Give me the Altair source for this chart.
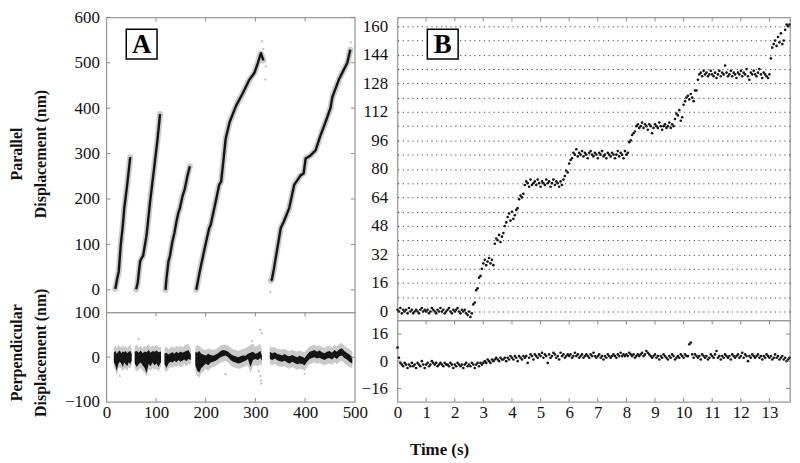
import altair as alt
import numpy as np
import pandas as pd

SERIF = "Liberation Serif"

# ---------------- Panel A : parallel displacement traces (x = time s, y = nm)
trace1_t = [18, 21, 25, 29, 33, 36, 41, 45, 48]
trace1_y = [2, 20, 41, 100, 140, 180, 223, 262, 292]
trace2_t = [60, 63, 68, 71, 74, 81, 88, 96, 103, 108]
trace2_y = [1, 15, 63, 70, 75, 121, 194, 267, 332, 387]
trace3_t = [119, 121, 125, 128, 133, 137, 141, 145, 148, 153, 158, 163, 168]
trace3_y = [0, 25, 63, 75, 107, 125, 150, 170, 180, 205, 223, 250, 272]
trace4_t = [181, 188, 198, 207, 210, 220, 227, 231, 236, 240, 248, 261, 275, 288, 298, 305, 311, 314, 316]
trace4_y = [0, 41, 92, 136, 143, 194, 231, 238, 289, 332, 369, 405, 434, 463, 478, 500, 521, 512, 505]
trace5_t = [331, 333, 337, 341, 351, 357, 368, 378, 391, 397, 401, 411, 421, 431, 441, 451, 455, 468, 478, 485, 491]
trace5_y = [20, 22, 45, 71, 136, 150, 180, 231, 252, 256, 289, 296, 307, 340, 369, 400, 425, 463, 485, 500, 529]
strayA_t = [313, 321, 320, 330, 492, 316]
strayA_y = [547, 492, 463, -5, 545, 530]

# ---------------- Panel A : perpendicular displacement envelopes (nm)
seg1_t = [15, 18, 21, 24, 27, 30, 33, 36, 39, 42, 45, 48, 51]
seg1_bh = [10, 14, 8, 12, 15, 9, 13, 11, 14, 9, 12, 14, 8]
seg1_bl = [-12, -18, -30, -15, -10, -14, -22, -12, -16, -20, -11, -15, -8]
seg1_gh = [22, 26, 20, 28, 24, 22, 27, 21, 26, 20, 25, 28, 18]
seg1_gl = [-22, -28, -42, -26, -22, -25, -32, -24, -27, -30, -22, -26, -18]
seg2_t = [57, 61, 65, 69, 73, 77, 81, 85, 89, 93, 97, 101, 105, 110]
seg2_bh = [12, 14, 10, 15, 9, 13, 11, 16, 10, 14, 12, 15, 11, 13]
seg2_bl = [-14, -22, -16, -12, -18, -24, -36, -15, -20, -12, -18, -14, -22, -10]
seg2_gh = [24, 28, 22, 26, 20, 25, 24, 30, 22, 26, 24, 28, 22, 24]
seg2_gl = [-26, -32, -28, -24, -30, -34, -44, -26, -30, -24, -28, -26, -32, -20]
seg3_t = [117, 121, 125, 129, 133, 137, 141, 145, 149, 153, 157, 161, 165, 170]
seg3_bh = [8, 10, 6, 9, 11, 8, 12, 9, 13, 10, 12, 14, 16, 6]
seg3_bl = [-16, -24, -14, -10, -12, -8, -11, -6, -10, -8, -5, -9, -4, -6]
seg3_gh = [20, 24, 18, 22, 24, 20, 26, 22, 26, 22, 26, 28, 30, 18]
seg3_gl = [-28, -34, -26, -22, -24, -20, -22, -18, -22, -20, -16, -20, -16, -16]
seg4_t = [179, 183, 187, 191, 195, 200, 205, 210, 215, 220, 225, 230, 235, 240, 245,
          250, 255, 260, 265, 270, 275, 280, 285, 290, 295, 300, 305, 310, 313]
seg4_bh = [12, 10, 14, 8, 6, 4, 8, 5, 3, 6, 9, 14, 16, 15, 12, 8, 4, 2, 0, 2, 4, 3, 8, 10, 12, 8, 10, 14, 4]
seg4_bl = [-18, -30, -34, -24, -20, -14, -18, -12, -10, -8, -4, 0, 2, 4, 0, -6, -10, -12, -14, -13,
           -10, -8, -4, -22, -6, -4, -6, -2, -8]
seg4_gh = [24, 22, 26, 20, 18, 16, 20, 18, 16, 18, 22, 26, 28, 28, 26, 22, 18, 16, 14, 16, 18, 20, 24,
           28, 30, 24, 26, 30, 16]
seg4_gl = [-30, -42, -46, -36, -32, -26, -30, -24, -22, -20, -16, -12, -10, -8, -12, -18, -22, -24,
           -26, -25, -22, -20, -18, -36, -20, -18, -20, -16, -20]
seg5_t = [329, 334, 339, 344, 349, 354, 359, 364, 369, 374, 379, 384, 389, 394, 399, 404, 409,
          414, 419, 424, 429, 434, 439, 444, 449, 454, 459, 464, 469, 474, 479, 484, 489, 495]
seg5_bh = [12, 9, 11, 7, 6, 4, 7, 3, 2, 5, 2, 0, 3, 1, -2, 6, 12, 14, 16, 12, 15, 11, 9, 12, 14, 10,
           16, 12, 18, 20, 14, 10, 6, 0]
seg5_bl = [-4, -6, -3, -7, -9, -10, -8, -12, -14, -10, -13, -16, -14, -15, -18, -10, -4, -2, 0, -3,
           -1, -4, -6, -3, -2, -5, 0, -4, 2, 4, -2, -5, -10, -14]
seg5_gh = [24, 22, 23, 19, 18, 17, 19, 15, 14, 17, 14, 13, 15, 13, 11, 18, 24, 26, 28, 24, 27, 23,
           21, 24, 26, 22, 28, 24, 30, 32, 26, 22, 18, 12]
seg5_gl = [-16, -18, -15, -19, -21, -22, -20, -24, -26, -22, -25, -28, -26, -27, -30, -22, -16,
           -14, -12, -15, -13, -16, -18, -15, -14, -17, -12, -16, -10, -8, -14, -17, -22, -26]
strayAb_t = [310, 313, 293, 307, 310, 311, 312, 240, 399, 65, 183, 27]
strayAb_y = [61, 54, 36, -31, -42, -53, -59, -38, -37, 41, 24, -42]

# ---------------- Panel B : samples every 0.05 s
B_dt = 0.05
B_par = [
    1, 0, 2, -1, 1, 0, 1, -1, 2, 0,
    1, -1, 0, 1, 0, -1, 1, 2, 0, 1,
    0, 1, -1, 0, 2, 1, 0, -1, 1, 0,
    2, 0, 1, -1, 0, 1, 2, 0, -1, 1,
    0, 1, 2, 0, -1, 1, 0, 1, -1, -2,
    0, -3, -1, 4, 5, 12, 13, 19, 20, 24,
    27, 29, 26, 28, 30, 27, 29, 26, 38, 41,
    40, 43, 39, 42, 44, 48, 50, 53, 55, 51,
    56, 52, 54, 57, 58, 63, 65, 64, 66, 71,
    73, 72, 70, 74, 71, 72, 73, 71, 74, 72,
    70, 73, 72, 71, 74, 72, 73, 70, 72, 74,
    71, 73, 72, 70, 73, 71, 74, 76, 79, 78,
    83, 85, 86, 89, 88, 91, 87, 89, 88, 90,
    87, 89, 88, 86, 89, 90, 88, 87, 89, 88,
    86, 89, 88, 90, 87, 88, 86, 89, 88, 87,
    89, 88, 86, 88, 90, 87, 89, 88, 86, 90,
    88, 89, 95, 96, 99, 100, 101, 104, 105, 103,
    104, 106, 103, 105, 104, 102, 105, 104, 100, 103,
    105, 104, 103, 106, 104, 102, 104, 105, 103, 104,
    106, 103, 105, 104, 108, 111, 110, 113, 107, 109,
    116, 118, 120, 121, 119, 122, 120, 118, 124, 124,
    130, 133, 134, 132, 135, 133, 134, 132, 133, 135,
    133, 132, 134, 131, 133, 135, 132, 134, 133, 138,
    134, 132, 133, 135, 132, 134, 133, 131, 134, 133,
    135, 132, 134, 133, 136, 132, 130, 134, 133, 135,
    133, 132, 134, 136, 133, 131, 134, 133, 132, 131,
    133, 142, 148, 150, 152, 149, 154, 151, 156, 150,
    152, 158, 161, 160, 161,
]
B_perp = [
    8, 2, -1, -2, -3, -1, -2, -4, -2, -3,
    -1, -3, -2, -4, -1, -2, -3, 0, -2, -4,
    -2, -1, -3, -2, 0, -1, -2, -1, -3, -2,
    -1, -2, -3, -1, -2, -2, -3, -1, -2, -4,
    -2, -3, -1, -2, -3, -2, -4, -2, -1, -3,
    -2, -3, -1, -2, -4, -2, -1, -3, -1, -2,
    -1, 0, -1, 1, 0, -1, 1, 0, 1, 2,
    1, 0, 2, 1, 1, 2, 0, 2, 1, 3,
    2, 1, 3, 2, 0, 3, 2, 1, 3, 2,
    3, -1, 2, 4, 3, 1, 4, 3, 2, 4,
    3, 5, 2, 4, 3, -1, 4, 2, 3, 5,
    4, 2, 3, 1, 5, 3, 4, 2, 3, 4,
    3, 4, 2, 3, 5, 3, 4, 2, 3, 4,
    2, 3, 4, 3, 2, 4, 3, 5, 3, 2,
    3, 4, 2, 3, 1, 3, 2, 4, 3, 2,
    3, 4, 3, 2, 4, 3, 5, 3, 4, 3,
    4, 3, 5, 4, 3, 4, 2, 3, 4, 3,
    4, 5, 3, 4, 6, 5, 4, 3, 2, 3,
    4, 2, 3, 1, 3, 2, 4, 3, 2, 1,
    3, 2, 4, 3, 1, 2, 3, 2, 4, 3,
    2, 4, 3, 3, 10, 11, 4, 2, 4, 3,
    2, 3, 1, 4, 3, 2, 3, 1, 2, 4,
    3, 2, 4, 6, 2, 3, 1, 3, 2, 4,
    3, 2, 3, 1, 4, 3, 2, 3, 4, 2,
    3, 5, 2, 4, 3, 0, 3, 2, 4, 3,
    2, 3, 4, 2, 3, 1, 3, 2, 4, 3,
    2, 3, 1, 2, 4, 2, 3, 1, 2, 3,
    1, 2, 0, 1, 2,
]

# tick / label values
A_x_ticks = [0, 100, 200, 300, 400, 500]
A_y_ticks = [0, 100, 200, 300, 400, 500, 600]
Ab_y_ticks = [-100, 0, 100]
B_x_ticks = list(range(0, 14))
B_y_grid = list(range(0, 161, 8))
Bb_y_ticks = [-16, 0, 16]

# ---------------- tables
rows = []
for k, (ts, ys) in enumerate([(trace1_t, trace1_y), (trace2_t, trace2_y), (trace3_t, trace3_y),
                              (trace4_t, trace4_y), (trace5_t, trace5_y)]):
    for i, (t, y) in enumerate(zip(ts, ys)):
        rows.append({"trace": k, "i": i, "t": t, "y": y})
dfA = pd.DataFrame(rows)
dfStrayA = pd.DataFrame({"t": strayA_t, "y": strayA_y})

rows = []
for k, (ts, bh, bl, gh, gl) in enumerate([
        (seg1_t, seg1_bh, seg1_bl, seg1_gh, seg1_gl),
        (seg2_t, seg2_bh, seg2_bl, seg2_gh, seg2_gl),
        (seg3_t, seg3_bh, seg3_bl, seg3_gh, seg3_gl),
        (seg4_t, seg4_bh, seg4_bl, seg4_gh, seg4_gl),
        (seg5_t, seg5_bh, seg5_bl, seg5_gh, seg5_gl)]):
    for t, a, b, c, d in zip(ts, bh, bl, gh, gl):
        rows.append({"seg": k, "t": t, "bh": a, "bl": b, "gh": c, "gl": d})
dfAb = pd.DataFrame(rows)
dfStrayAb = pd.DataFrame({"t": strayAb_t, "y": strayAb_y})

dfB = pd.DataFrame({"t": np.arange(len(B_par)) * B_dt, "y": B_par})
dfBb = pd.DataFrame({"t": np.arange(len(B_perp)) * B_dt, "y": B_perp})

TICK = "#8a8a8a"
HALO = "#cacaca"
INK = "#151515"

# ---------------- scales & axes
xA = alt.Scale(domain=[0, 500], nice=False, zero=False)
yA = alt.Scale(domain=[-50, 600], nice=False, zero=False)
yAb = alt.Scale(domain=[-100, 100], nice=False, zero=False)
xB = alt.Scale(domain=[0, 13.72], nice=False, zero=False)
yB = alt.Scale(domain=[-5, 165], nice=False, zero=False)
yBb = alt.Scale(domain=[-24, 24], nice=False, zero=False)

axA_y = alt.Axis(values=A_y_ticks, title=["Parallel", "Displacement (nm)"], titleX=-82, titleY=137,
                 titleBaseline="bottom", titleLineHeight=24, labelPadding=7)
axAb_y = alt.Axis(values=Ab_y_ticks, title=["Perpendicular", "Displacement (nm)"], titleX=-82,
                  titleY=40, titleBaseline="bottom", titleLineHeight=24, labelPadding=7)
axA_x = alt.Axis(values=A_x_ticks, title=None, labelPadding=3, labelFlush=False)
axB_y = alt.Axis(values=B_y_grid, grid=True, gridDash=[1.2, 3.6], gridColor="#444", gridWidth=1,
                 labelExpr="datum.value % 16 == 0 ? datum.label : ''", labelPadding=10, title=None)
axBb_y = alt.Axis(values=Bb_y_ticks, labelPadding=10, title=None)
axB_x = alt.Axis(values=B_x_ticks, labelPadding=3, labelFlush=False, title="Time (s)",
                 titleX=12, titleY=48, titleAlign="left", titleAnchor="start",
                 titleBaseline="middle", titleFontSize=17)


def vticks(vals, field_scale, axis, h, top=True, bottom=False):
    """Small inward tick marks on top / bottom frame edges."""
    out = []
    d = pd.DataFrame({"t": vals})
    if top:
        out.append(alt.Chart(d).mark_rule(color=TICK, strokeWidth=1).encode(
            x=alt.X("t:Q", scale=field_scale, axis=axis), y=alt.value(0), y2=alt.value(4)))
    if bottom:
        out.append(alt.Chart(d).mark_rule(color=TICK, strokeWidth=1).encode(
            x=alt.X("t:Q", scale=field_scale, axis=axis), y=alt.value(h), y2=alt.value(h - 4)))
    return out


def hticks(vals, field_scale, axis, w):
    d = pd.DataFrame({"y": vals})
    return [
        alt.Chart(d).mark_rule(color=TICK, strokeWidth=1).encode(
            y=alt.Y("y:Q", scale=field_scale, axis=axis), x=alt.value(0), x2=alt.value(4)),
        alt.Chart(d).mark_rule(color=TICK, strokeWidth=1).encode(
            y=alt.Y("y:Q", scale=field_scale, axis=axis), x=alt.value(w), x2=alt.value(w - 4)),
    ]


def panel_label(letter, cx, cy):
    d = pd.DataFrame({"lab": [letter]})
    box = alt.Chart(d).mark_rect(fill="white", stroke="black", strokeWidth=1.5).encode(
        x=alt.value(cx - 15.5), x2=alt.value(cx + 15.5), y=alt.value(cy - 15), y2=alt.value(cy + 15))
    txt = alt.Chart(d).mark_text(font=SERIF, fontSize=27, fontWeight="bold", align="center",
                                 baseline="middle", color="black").encode(
        text="lab:N", x=alt.value(cx), y=alt.value(cy + 1))
    return [box, txt]


WA, HA, HAb = 250, 297, 90
WB, HB, HBb = 395, 305, 82

# ---------------- Panel A top
halo = alt.Chart(dfA).mark_line(color=HALO, strokeWidth=6, strokeCap="round", strokeJoin="round").encode(
    x=alt.X("t:Q", scale=xA, axis=None), y=alt.Y("y:Q", scale=yA, axis=axA_y),
    detail="trace:N", order="i:Q")
stray = alt.Chart(dfStrayA).mark_circle(color="#bdbdbd", size=5, opacity=1).encode(
    x=alt.X("t:Q", scale=xA, axis=None), y=alt.Y("y:Q", scale=yA, axis=axA_y))
core = alt.Chart(dfA).mark_line(color=INK, strokeWidth=2.4, strokeJoin="round").encode(
    x=alt.X("t:Q", scale=xA, axis=None), y=alt.Y("y:Q", scale=yA, axis=axA_y),
    detail="trace:N", order="i:Q")
A_top = alt.layer(
    halo, stray, core,
    *vticks(A_x_ticks[1:-1], xA, None, HA, top=True),
    *hticks(A_y_ticks, yA, axA_y, WA),
    *panel_label("A", 35.5, 27),
).properties(width=WA, height=HA)

# ---------------- Panel A bottom
greyA = alt.Chart(dfAb).mark_area(color=HALO, opacity=1).encode(
    x=alt.X("t:Q", scale=xA, axis=axA_x), y=alt.Y("gl:Q", scale=yAb, axis=axAb_y), y2="gh:Q",
    detail="seg:N")
strayB = alt.Chart(dfStrayAb).mark_circle(color="#bdbdbd", size=5, opacity=1).encode(
    x=alt.X("t:Q", scale=xA, axis=axA_x), y=alt.Y("y:Q", scale=yAb, axis=axAb_y))
blackA = alt.Chart(dfAb).mark_area(color=INK, opacity=1).encode(
    x=alt.X("t:Q", scale=xA, axis=axA_x), y=alt.Y("bl:Q", scale=yAb, axis=axAb_y), y2="bh:Q",
    detail="seg:N")
A_bot = alt.layer(
    greyA, strayB, blackA,
    *vticks(A_x_ticks[1:-1], xA, axA_x, HAb, top=True, bottom=True),
    *hticks([0], yAb, axAb_y, WA),
).properties(width=WA, height=HAb)

# ---------------- Panel B top
ptsB = alt.Chart(dfB).mark_circle(color=INK, size=7, opacity=1).encode(
    x=alt.X("t:Q", scale=xB, axis=None), y=alt.Y("y:Q", scale=yB, axis=axB_y))
B_top = alt.layer(
    ptsB,
    *vticks(B_x_ticks[1:], xB, None, HB, top=True),
    *panel_label("B", 45.5, 27),
).properties(width=WB, height=HB)

# ---------------- Panel B bottom
ptsBb = alt.Chart(dfBb).mark_circle(color=INK, size=7, opacity=1).encode(
    x=alt.X("t:Q", scale=xB, axis=axB_x), y=alt.Y("y:Q", scale=yBb, axis=axBb_y))
B_bot = alt.layer(
    ptsBb,
    *vticks(B_x_ticks[1:], xB, axB_x, HBb, top=True, bottom=True),
    *hticks(Bb_y_ticks, yBb, axBb_y, WB),
).properties(width=WB, height=HBb)

colA = alt.vconcat(A_top, A_bot, spacing=0, bounds="flush")
colB = alt.vconcat(B_top, B_bot, spacing=0, bounds="flush")

chart = alt.hconcat(colA, colB, spacing=-9).properties(
    padding={"left": 0, "top": -2, "right": 0, "bottom": 0}
).configure(
    background="white"
).configure_view(
    stroke="#9a9a9a", strokeWidth=1.3
).configure_axis(
    labelFont=SERIF, labelFontSize=17, labelColor="#111",
    titleFont=SERIF, titleFontSize=16, titleFontWeight="bold", titleColor="#111",
    domain=False, ticks=False, grid=False
)

chart.save("out.html", embed_options={"renderer": "svg", "actions": False})
